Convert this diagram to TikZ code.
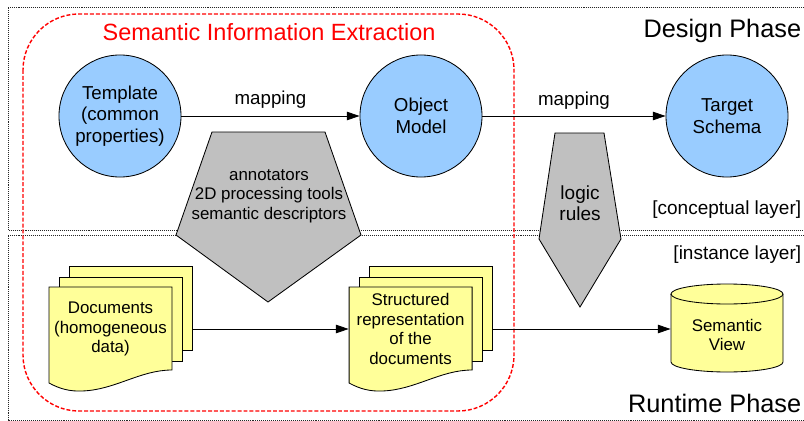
\documentclass[tikz,border=0pt]{standalone}
\usepackage{fontspec}
\setmainfont{Liberation Sans}
\usetikzlibrary{arrows.meta}
\definecolor{conceptblue}{HTML}{99CCFF}
\definecolor{sheetyellow}{HTML}{FFFF99}
\definecolor{toolgray}{HTML}{C0C0C0}

\begin{document}
\begin{tikzpicture}[x=0.025cm,y=-0.025cm,line width=0.6pt,
	concept/.style={circle,draw,fill=conceptblue,minimum size=3.05cm,inner sep=0pt,align=center,font=\fontsize{13.3}{15.5}\selectfont},
	sheet/.style={draw,fill=sheetyellow,minimum width=3.075cm,minimum height=2.1cm,inner sep=0pt},
	sheettext/.style={minimum width=3.075cm,inner sep=0pt,align=center,font=\fontsize{12}{13.8}\selectfont},
	tool/.style={draw,fill=toolgray},
	flow/.style={-{Triangle[length=9pt,width=6pt]}},
	phase/.style={anchor=east,inner sep=1pt,font=\fontsize{18}{21}\selectfont},
	layer/.style={anchor=east,inner sep=1pt,font=\fontsize{13.5}{16}\selectfont},
	frame/.style={black!85,line width=0.6pt,dash pattern=on 0.7pt off 0.7pt}]
	\useasboundingbox (0,0) rectangle (804,421);
	\draw[frame] (804,7) -- (8,7) -- (8,230) -- (804,230);
	\draw[frame] (804,235) -- (8,235) -- (8,420) -- (804,420);
	\draw[red,line width=1pt,dash pattern=on 2.8pt off 1.4pt,rounded corners=1.4cm] (23,14) rectangle (514,411);
	\node[red,font=\fontsize{16.7}{20}\selectfont] (extraction) at (269,32.5) {Semantic Information Extraction};
	\node[phase] (design) at (803,31) {Design Phase};
	\node[layer] (conceptual) at (803,210) {[conceptual layer]};
	\node[layer] (instance) at (803,255) {[instance layer]};
	\node[phase] (runtime) at (803,403.5) {Runtime Phase};

	\node[concept] (template) at (120,116) {Template\\(common\\properties)};
	\node[concept] (objmodel) at (421,116) {Object\\Model};
	\node[concept] (target) at (727,116) {Target\\Schema};
	\draw[flow] (template) -- node[above=2pt,font=\fontsize{13.3}{15.5}\selectfont]{mapping} (objmodel);
	\draw[flow] (objmodel) -- node[above=1pt,font=\fontsize{13.3}{15.5}\selectfont]{mapping} (target);

	\draw[tool] (212,132) -- (325,132) -- (361,235) -- (268,302) -- (176,235) -- cycle;
	\node[align=center,font=\fontsize{12}{13.8}\selectfont] (tools) at (269,196) {annotators\\2D processing tools\\semantic descriptors};
	\draw[tool] (555,133) -- (604,133) -- (621,239) -- (580,307) -- (539,239) -- cycle;
	\node[align=center,font=\fontsize{13.5}{15}\selectfont] (rules) at (580,203) {logic\\rules};

	\node[sheet] (docsback) at (130.5,308) {};
	\node[sheet] (docsmid) at (120.5,319) {};
	\draw[fill=sheetyellow] (49,287) -- (172,287) -- (172,370) .. controls (140,370) and (115,390) .. (82,391) .. controls (70,391.5) and (60,389) .. (49,383) -- cycle;
	\node[sheettext] (docs) at (110.5,329) {Documents\\(homogeneous\\data)};
	\begin{scope}[xshift=7.5cm]
		\node[sheet] (strucback) at (130.5,308) {};
		\node[sheet] (strucmid) at (120.5,319) {};
		\draw[fill=sheetyellow] (49,287) -- (172,287) -- (172,370) .. controls (140,370) and (115,390) .. (82,391) .. controls (70,391.5) and (60,389) .. (49,383) -- cycle;
		\node[sheettext] (struc) at (110.5,329) {Structured\\representation\\of the\\documents};
	\end{scope}

	\draw[fill=sheetyellow] (671,294) -- (671,362) arc[start angle=180,end angle=360,x radius=1.4cm,y radius=0.25cm] -- (783,294) arc[start angle=0,end angle=180,x radius=1.4cm,y radius=0.25cm] -- cycle;
	\draw (671,294) arc[start angle=180,end angle=360,x radius=1.4cm,y radius=0.25cm];
	\node[sheettext,minimum width=2.8cm] (view) at (727,335) {Semantic\\View};

	\draw[flow] (docsback.east |- docs) -- (struc.west);
	\draw[flow] (strucback.east |- struc) -- (view.west |- struc);
\end{tikzpicture}
\end{document}
